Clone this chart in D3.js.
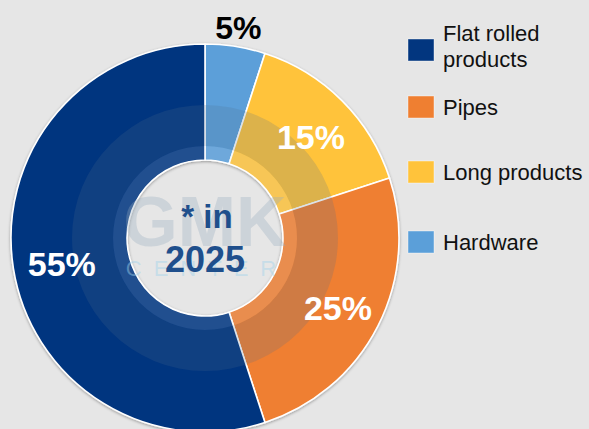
<!DOCTYPE html>
<html>
<head>
<meta charset="utf-8">
<script src="https://cdn.jsdelivr.net/npm/d3@7/dist/d3.min.js"></script>
<style>
  html, body { margin: 0; padding: 0; background: #e6e6e6; }
  svg { display: block; }
</style>
</head>
<body>
<svg id="chart" width="589" height="429"></svg>
<script>
// Product mix, share of total (%), drawn clockwise from 12 o'clock
const categories = ["Hardware", "Long products", "Pipes", "Flat rolled products"];
const shares = [5, 15, 25, 55];
const colors = ["#5b9fd9", "#ffc33b", "#ef7f31", "#02367f"];

// Legend order and wrapped legend text
const legendOrder = ["Flat rolled products", "Pipes", "Long products", "Hardware"];
const legendLines = [["Flat rolled", "products"], ["Pipes"], ["Long products"], ["Hardware"]];

const centerLines = ["* in", "2025"];

const W = 589, H = 429;
const cx = 205, cy = 238;
const outerR = 194, innerR = 78;
// vertical centre of each legend swatch
const legendRowY = [50, 107, 172, 242];

const svg = d3.select("#chart");
svg.append("rect").attr("width", W).attr("height", H).attr("fill", "#e6e6e6");

const defs = svg.append("defs");
const shadow = defs.append("filter").attr("id", "soft").attr("x", "-10%").attr("y", "-10%")
  .attr("width", "120%").attr("height", "120%");
shadow.append("feGaussianBlur").attr("in", "SourceAlpha").attr("stdDeviation", 1.6).attr("result", "b");
shadow.append("feOffset").attr("in", "b").attr("dx", 0).attr("dy", 0.5).attr("result", "o");
shadow.append("feComponentTransfer").attr("in", "o").attr("result", "s")
  .append("feFuncA").attr("type", "linear").attr("slope", 0.35);
const merge = shadow.append("feMerge");
merge.append("feMergeNode").attr("in", "s");
merge.append("feMergeNode").attr("in", "SourceGraphic");

const data = categories.map((c, i) => ({ category: c, value: shares[i], color: colors[i] }));

const pie = d3.pie().value(d => d.value).sort(null);
const arcs = pie(data);
const arc = d3.arc().innerRadius(innerR).outerRadius(outerR);

const g = svg.append("g").attr("transform", `translate(${cx},${cy})`);

g.append("g").attr("filter", "url(#soft)")
  .selectAll("path")
  .data(arcs)
  .join("path")
  .attr("d", arc)
  .attr("fill", d => d.data.color)
  .attr("stroke", "#ffffff")
  .attr("stroke-width", 1.6)
  .attr("stroke-linejoin", "round");

// Faint logo watermark laid over the ring and centre
const wm = g.append("g").attr("pointer-events", "none");
wm.append("path")
  .attr("d", d3.arc().innerRadius(92).outerRadius(133).startAngle(0).endAngle(2 * Math.PI)())
  .attr("fill", "rgba(80,110,140,0.2)");
wm.append("path")
  .attr("d", d3.arc().innerRadius(79).outerRadius(92).startAngle(0).endAngle(2 * Math.PI)())
  .attr("fill", "rgba(205,215,230,0.16)");
wm.append("text")
  .attr("x", 0).attr("y", 8)
  .attr("text-anchor", "middle")
  .attr("font-family", "Liberation Sans, Arial, sans-serif")
  .attr("font-weight", "bold")
  .attr("font-size", 70)
  .attr("fill", "rgba(150,170,190,0.32)")
  .text("GMK");
wm.append("text")
  .attr("x", 2).attr("y", 38)
  .attr("text-anchor", "middle")
  .attr("font-family", "Liberation Sans, Arial, sans-serif")
  .attr("font-size", 22)
  .attr("letter-spacing", 12)
  .attr("fill", "rgba(160,210,235,0.45)")
  .text("CENTER");

// Centre caption
const cap = g.append("text")
  .attr("text-anchor", "middle")
  .attr("font-family", "Liberation Sans, Arial, sans-serif")
  .attr("font-weight", "bold")
  .attr("fill", "#1f4f8c");
cap.append("tspan").attr("x", 2).attr("y", -10).attr("font-size", 33).text(centerLines[0]);
cap.append("tspan").attr("x", 0).attr("y", 34).attr("font-size", 36).text(centerLines[1]);

// Percentage labels: inside the ring, or just outside for thin slices
const inArc = d3.arc().innerRadius(147).outerRadius(147);
const outArc = d3.arc().innerRadius(213).outerRadius(213);
g.selectAll("text.pct")
  .data(arcs)
  .join("text")
  .attr("class", "pct")
  .each(function (d) {
    const outside = d.data.value < 10;
    const [x, y] = (outside ? outArc : inArc).centroid(d);
    d3.select(this)
      .attr("x", x + (outside ? 0 : 2)).attr("y", y + (outside ? 0 : 3))
      .attr("dy", "0.36em")
      .attr("fill", outside ? "#000000" : "#ffffff")
      .attr("font-size", outside ? 32 : 34);
  })
  .attr("text-anchor", "middle")
  .attr("font-family", "Liberation Sans, Arial, sans-serif")
  .attr("font-weight", "bold")
  .text(d => d.data.value + "%");

// Legend
const colorOf = d3.scaleOrdinal().domain(categories).range(colors);
const legend = svg.append("g").attr("transform", "translate(408,0)");
legendOrder.forEach((name, i) => {
  const yc = legendRowY[i];
  const row = legend.append("g");
  row.append("rect")
    .attr("x", 0).attr("y", yc - 11)
    .attr("width", 26).attr("height", 22)
    .attr("fill", colorOf(name))
    .attr("stroke", "rgba(255,255,255,0.5)")
    .attr("stroke-width", 0.8);
  const lines = legendLines[i];
  const t = row.append("text")
    .attr("font-family", "Liberation Sans, Arial, sans-serif")
    .attr("font-size", 22)
    .attr("fill", "#111111");
  const lh = 26;
  const first = yc + 8 - (lines.length - 1) * 17;
  lines.forEach((ln, k) => {
    t.append("tspan").attr("x", 35).attr("y", first + k * lh).text(ln);
  });
});
</script>
</body>
</html>
